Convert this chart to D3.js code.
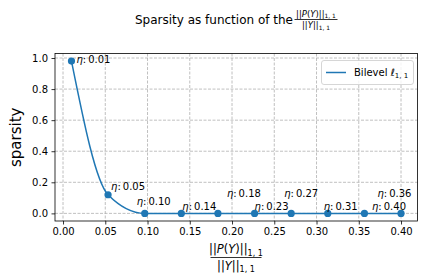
<!DOCTYPE html>
<html>
<head>
<meta charset="utf-8">
<script src="https://cdn.jsdelivr.net/npm/d3@7"></script>
<style>
  body { margin: 0; background: #fff; }
  text { font-family: "DejaVu Sans", sans-serif; }
</style>
</head>
<body>
<script>
// data
const ratio = [0.01, 0.0533, 0.0967, 0.14, 0.1833, 0.2267, 0.27, 0.3133, 0.3567, 0.40];
const sparsity = [0.98, 0.12, 0, 0, 0, 0, 0, 0, 0, 0];
const etaLabels = ["0.01", "0.05", "0.10", "0.14", "0.18", "0.23", "0.27", "0.31", "0.36", "0.40"];
const xTicks = [0, 0.05, 0.10, 0.15, 0.20, 0.25, 0.30, 0.35, 0.40];
const yTicks = [0, 0.2, 0.4, 0.6, 0.8, 1.0];

// label nudges (pixels), like adjustText put them
const labelOffsets = [[5, 2], [3, -5], [-8, -8], [1, -3], [9, -16], [0, -3], [-7, -16], [-4, -3], [13, -16], [-29, -3]];

const w = 424;
const h = 280;
const margin = {left: 55, right: 6.5, top: 53.5, bottom: 59};
const blue = "#1f77b4";

const svg = d3.select("body")
    .append("svg")
    .attr("width", w)
    .attr("height", h);

const data = ratio.map((r, i) => ({x: r, y: sparsity[i], label: etaLabels[i], off: labelOffsets[i]}));

const xScale = d3.scaleLinear()
    .domain([-0.0095, 0.4195])
    .range([margin.left, w - margin.right]);

const yScale = d3.scaleLinear()
    .domain([-0.049, 1.029])
    .range([h - margin.bottom, margin.top]);

// grid
const grid = svg.append("g")
    .attr("stroke", "#b0b0b0")
    .attr("stroke-width", 0.8)
    .attr("stroke-dasharray", "3,1.5");
grid.selectAll(".gx").data(xTicks).enter().append("line")
    .attr("x1", d => xScale(d)).attr("x2", d => xScale(d))
    .attr("y1", margin.top).attr("y2", h - margin.bottom);
grid.selectAll(".gy").data(yTicks).enter().append("line")
    .attr("y1", d => yScale(d)).attr("y2", d => yScale(d))
    .attr("x1", margin.left).attr("x2", w - margin.right);

const xAxis = d3.axisBottom(xScale).tickValues(xTicks).tickFormat(d3.format(".2f")).tickSize(3.5).tickPadding(3.5);
const yAxis = d3.axisLeft(yScale).tickValues(yTicks).tickFormat(d3.format(".1f")).tickSize(3.5).tickPadding(3.5);

const gx = svg.append("g")
    .attr("transform", "translate(0," + (h - margin.bottom) + ")")
    .call(xAxis);
const gy = svg.append("g")
    .attr("transform", "translate(" + margin.left + ",0)")
    .call(yAxis);
[gx, gy].forEach(g => {
    g.select(".domain").remove();
    g.selectAll("text").attr("font-size", 10).attr("fill", "#000").attr("font-family", "DejaVu Sans");
    g.selectAll("line").attr("stroke", "#000").attr("stroke-width", 0.8);
});

// frame
svg.append("rect")
    .attr("x", margin.left).attr("y", margin.top)
    .attr("width", w - margin.right - margin.left)
    .attr("height", h - margin.bottom - margin.top)
    .attr("fill", "none").attr("stroke", "#000").attr("stroke-width", 0.8);

// curve + markers
const line = d3.line()
    .x(d => xScale(d.x))
    .y(d => yScale(d.y))
    .curve(d3.curveMonotoneX);
svg.append("path")
    .datum(data)
    .attr("d", line)
    .attr("fill", "none")
    .attr("stroke", blue)
    .attr("stroke-width", 1.5);
svg.selectAll(".pt").data(data).enter().append("circle")
    .attr("cx", d => xScale(d.x))
    .attr("cy", d => yScale(d.y))
    .attr("r", 3.6)
    .attr("fill", blue);

// eta labels
const lab = svg.selectAll(".lab").data(data).enter().append("text")
    .attr("x", d => xScale(d.x) + d.off[0])
    .attr("y", d => yScale(d.y) + d.off[1])
    .attr("font-size", 10);
lab.append("tspan").attr("font-style", "italic").text("η");
lab.append("tspan").text(d => ":\u2009" + d.label);

// title with fraction
const title = svg.append("g");
title.append("text")
    .attr("x", 293).attr("y", 24)
    .attr("text-anchor", "end")
    .attr("font-size", 12)
    .text("Sparsity as function of the");
function normFrac(g, cx, cy, fs, lineW) {
    const num = g.append("text").attr("x", cx).attr("y", cy - fs * 0.35).attr("text-anchor", "middle").attr("font-size", fs);
    num.append("tspan").text("||");
    num.append("tspan").attr("font-style", "italic").text("P");
    num.append("tspan").text("(");
    num.append("tspan").attr("font-style", "italic").text("Y");
    num.append("tspan").text(")||");
    num.append("tspan").attr("font-size", fs * 0.7).attr("dy", fs * 0.2).text("1, 1");
    g.append("line")
        .attr("x1", cx - lineW / 2).attr("x2", cx + lineW / 2)
        .attr("y1", cy).attr("y2", cy)
        .attr("stroke", "#000").attr("stroke-width", 0.8);
    const den = g.append("text").attr("x", cx).attr("y", cy + fs * 1.05).attr("text-anchor", "middle").attr("font-size", fs);
    den.append("tspan").text("||");
    den.append("tspan").attr("font-style", "italic").text("Y");
    den.append("tspan").text("||");
    den.append("tspan").attr("font-size", fs * 0.7).attr("dy", fs * 0.2).text("1, 1");
}
normFrac(title, 316, 19.5, 8.5, 43);

// x label fraction
normFrac(svg.append("g"), 236, 257.5, 11.5, 51);

// y label
svg.append("text")
    .attr("transform", "translate(21," + ((margin.top + h - margin.bottom) / 2) + ") rotate(-90)")
    .attr("text-anchor", "middle")
    .attr("font-size", 15)
    .text("sparsity");

// legend
const lg = svg.append("g");
lg.append("rect")
    .attr("x", 321.5).attr("y", 60.5).attr("width", 92).attr("height", 24).attr("rx", 2.5)
    .attr("fill", "#fff").attr("fill-opacity", 0.8)
    .attr("stroke", "#ccc").attr("stroke-width", 0.8);
lg.append("line")
    .attr("x1", 326).attr("x2", 346).attr("y1", 72.5).attr("y2", 72.5)
    .attr("stroke", blue).attr("stroke-width", 1.5);
const lt = lg.append("text").attr("x", 354).attr("y", 76).attr("font-size", 10);
lt.append("tspan").text("Bilevel ");
lt.append("tspan").attr("font-style", "italic").text("ℓ");
lt.append("tspan").attr("font-size", 7).attr("dy", 2).text("1, 1");
</script>
</body>
</html>
